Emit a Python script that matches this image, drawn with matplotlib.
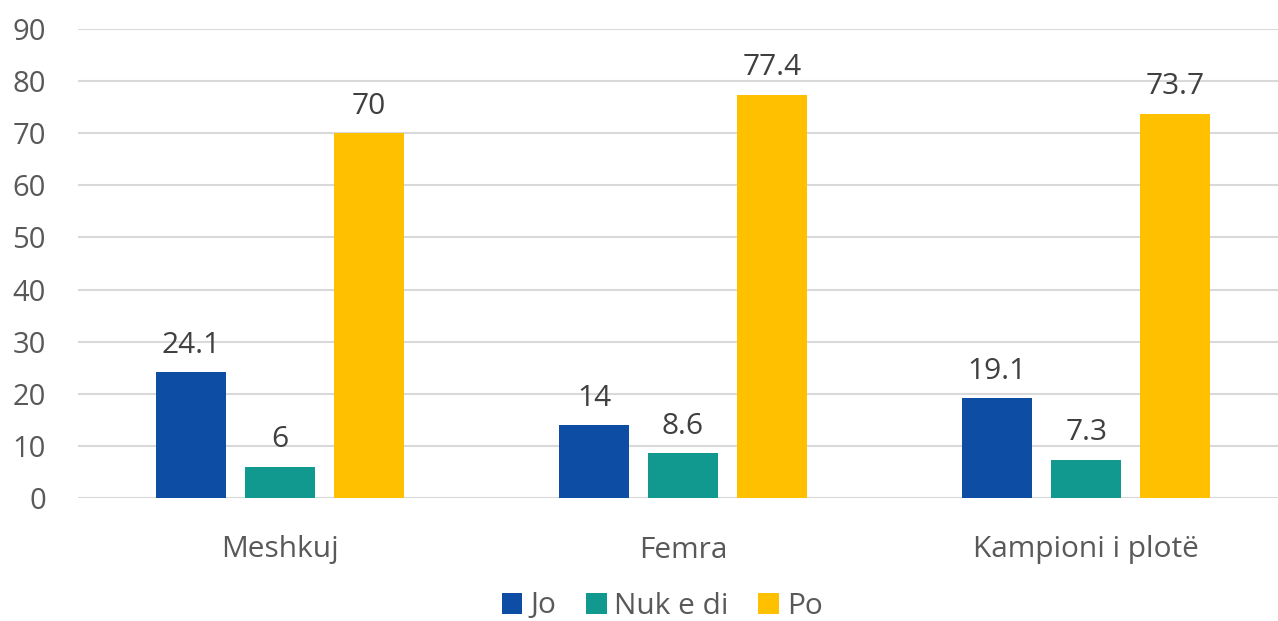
import matplotlib
matplotlib.use("Agg")
import matplotlib.pyplot as plt
import numpy as np

categories = ["Meshkuj", "Femra", "Kampioni i plotë"]
series_names = ["Jo", "Nuk e di", "Po"]
jo = [24.1, 14, 19.1]
nuk_e_di = [6, 8.6, 7.3]
po = [70, 77.4, 73.7]
y_ticks = [0, 10, 20, 30, 40, 50, 60, 70, 80, 90]

colors = ["#0E4DA4", "#12998F", "#FFC000"]
plt.rcParams["font.family"] = ["Open Sans", "DejaVu Sans"]

W, H = 1278, 621
fig = plt.figure(figsize=(W / 100, H / 100), dpi=100)
left, right = 78, 1288
bottom, top = 498, 29
ax = fig.add_axes([left / W, (H - bottom) / H, (right - left) / W, (bottom - top) / H])

x = np.arange(len(categories))
width = 0.1735
step = 0.2206
for i, (name, vals, c) in enumerate(zip(series_names, [jo, nuk_e_di, po], colors)):
    pos = x + (i - 1) * step
    bars = ax.bar(pos, vals, width, color=c, label=name, zorder=3)
    for b, v in zip(bars, vals):
        ax.text(b.get_x() + b.get_width() / 2, v + 2.4, f"{v:g}",
                ha="center", va="bottom", fontsize=21.5, color="#404040")

ax.set_xlim(-0.5, len(categories) - 0.5)
ax.set_ylim(0, 90)
ax.set_yticks(y_ticks)
ax.yaxis.grid(True, color="#D9D9D9", linewidth=1.5, zorder=0)
ax.set_axisbelow(True)
for s in ax.spines.values():
    s.set_visible(False)
ax.tick_params(axis="y", length=0, pad=23, labelsize=21, labelcolor="#595959")
ax.tick_params(axis="x", length=0, pad=27, labelsize=21.5, labelcolor="#595959")
ax.set_xticks(x)
ax.set_xticklabels(categories)

handles, labels = ax.get_legend_handles_labels()
leg = fig.legend(handles, labels, loc="center", bbox_to_anchor=(662 / W, (H - 606) / H),
                 ncol=3, frameon=False, fontsize=21.5, handlelength=0.7, handleheight=0.7,
                 handletextpad=0.25, columnspacing=1.0, borderpad=0.1)
for t in leg.get_texts():
    t.set_color("#595959")

fig.savefig("out.png", dpi=100)
